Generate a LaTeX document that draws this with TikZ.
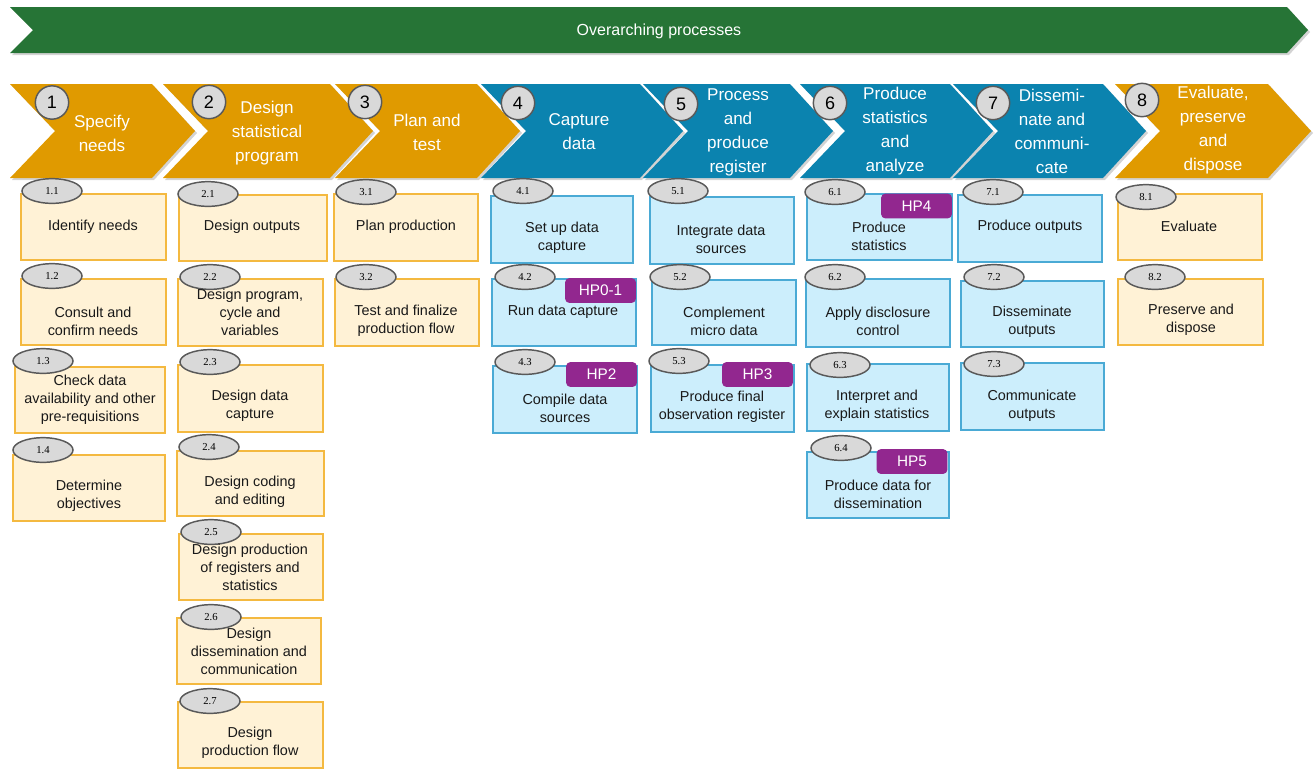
\documentclass[tikz,border=0pt]{standalone}
\usepackage{fontspec}
\setmainfont{Liberation Sans}
\newfontfamily\numserif{Liberation Serif}
\usetikzlibrary{shapes.geometric,fit,shadows}
\definecolor{gsorange}{HTML}{E09A00}
\definecolor{gsblue}{HTML}{0B83AF}
\definecolor{gsgreen}{HTML}{267436}
\definecolor{ylfill}{HTML}{FFF2D6}
\definecolor{ylline}{HTML}{F4B940}
\definecolor{blfill}{HTML}{CCEEFC}
\definecolor{blline}{HTML}{4AAAD5}
\definecolor{hppurple}{HTML}{92278F}
\definecolor{elfill}{HTML}{D9D9D9}
\definecolor{elline}{HTML}{595959}
\tikzset{
  chev/.style={drop shadow={shadow xshift=1.5pt,shadow yshift=-1.5pt,opacity=0.35}},
  chevtext/.style={text=white,align=center,font=\fontsize{12.8}{18}\selectfont,inner sep=0pt},
  numcirc/.style={circle,fill=elfill,draw=elline,line width=1.1pt,minimum size=25pt,inner sep=0pt,font=\fontsize{13.5}{15}\selectfont},
  ybox/.style={fill=ylfill,draw=ylline,line width=0.9pt,inner sep=0pt},
  bbox/.style={fill=blfill,draw=blline,line width=0.9pt,inner sep=0pt},
  numell/.style={ellipse,fill=elfill,draw=elline,line width=1.1pt,minimum width=45pt,minimum height=18.5pt,inner sep=0pt,font=\numserif\fontsize{8}{9}\selectfont},
  boxtext/.style={align=center,font=\fontsize{10.8}{13.5}\selectfont,inner sep=0pt,text=black!90},
  hptag/.style={fill=hppurple,rounded corners=3pt,inner sep=0pt,text=white,font=\fontsize{11.5}{13}\selectfont,minimum width=53pt,minimum height=18.5pt},
}
\newcommand\pbox[8]{%
  \node[#2, fit={#3 #4}] (#1) {};
  \node[numell] (#1e) at #5 {#6};
  \node[boxtext] (#1t) at #7 {#8};
}
\newcommand\chevron[6]{% #1 L, #2 R, #3 colour, #4 circle centre, #5 number, #6 name
  \fill[#3,chev] (#1,84) -- (#2,84) -- ({#2+43},131) -- (#2,178) -- (#1,178) -- ({#1+45},131) -- cycle;
  \node[numcirc] (#6) at #4 {#5};
}
\begin{document}
\begin{tikzpicture}[x=0.75pt,y=-0.75pt]
\useasboundingbox (0,0) rectangle (1314,769);
% banner
\fill[gsgreen,chev] (10,7) -- (1287,7) -- (1308,30) -- (1287,53) -- (10,53) -- (33,30) -- cycle;
\node[text=white,font=\fontsize{12}{14}\selectfont] (banner) at (659,31) {Overarching processes};
% chevrons
\chevron{10}{152}{gsorange}{(52,102.5)}{1}{c1}
\chevron{163}{330}{gsorange}{(209,102)}{2}{c2}
\chevron{335}{477}{gsorange}{(365,102)}{3}{c3}
\chevron{481}{640}{gsblue}{(518,103)}{4}{c4}
\chevron{643}{790}{gsblue}{(681,104)}{5}{c5}
\chevron{800}{950}{gsblue}{(830,103)}{6}{c6}
\chevron{953}{1103}{gsblue}{(993,103)}{7}{c7}
\chevron{1115}{1268}{gsorange}{(1142,100)}{8}{c8}
\node[chevtext] (t1) at (102,133.5) {Specify\\needs};
\node[chevtext] (t2) at (267,133) {Design\\statistical\\program};
\node[chevtext] (t3) at (427,132.5) {Plan and\\test};
\node[chevtext] (t4) at (579,131.5) {Capture\\data};
\node[chevtext] (t5) at (738,132.5) {Process\\and\\produce\\register};
\node[chevtext] (t6) at (895,131) {Produce\\statistics\\and\\analyze};
\node[chevtext] (t7) at (1052,131) {Dissemi-\\nate and\\communi-\\cate};
\node[chevtext] (t8) at (1213,130.5) {Evaluate,\\preserve\\and\\dispose};
% column 1
\pbox{b11}{ybox}{(21,194)}{(166,260)}{(52,191)}{1.1}{(93,227)}{Identify needs}
\pbox{b12}{ybox}{(21,279)}{(166,345)}{(52,276)}{1.2}{(93,321)}{Consult and\\confirm needs}
\pbox{b13}{ybox}{(15,367)}{(165,433)}{(43,361)}{1.3}{(90,400)}{Check data\\availability and other\\pre-requisitions}
\pbox{b14}{ybox}{(13,455)}{(165,521)}{(43,450)}{1.4}{(89,496)}{Determine\\objectives}
% column 2
\pbox{b21}{ybox}{(179,195)}{(327,261)}{(208,194)}{2.1}{(252,227)}{Design outputs}
\pbox{b22}{ybox}{(178,279)}{(323,346)}{(210,277)}{2.2}{(250,312)}{Design program,\\cycle and\\variables}
\pbox{b23}{ybox}{(178,365)}{(323,432)}{(210,362)}{2.3}{(250,406)}{Design data\\capture}
\pbox{b24}{ybox}{(177,451)}{(324,516)}{(209,447)}{2.4}{(250,492)}{Design coding\\and editing}
\pbox{b25}{ybox}{(179,534)}{(323,600)}{(211,532)}{2.5}{(250,567)}{Design production\\of registers and\\statistics}
\pbox{b26}{ybox}{(177,618)}{(321,684)}{(211,617)}{2.6}{(249,651)}{Design\\dissemination and\\communication}
\pbox{b27}{ybox}{(178,702)}{(323,768)}{(210,701)}{2.7}{(250,743)}{Design\\production flow}
% column 3
\pbox{b31}{ybox}{(334,194)}{(478,261)}{(366,192)}{3.1}{(406,227)}{Plan production}
\pbox{b32}{ybox}{(335,279)}{(479,346)}{(366,277)}{3.2}{(406,321)}{Test and finalize\\production flow}
% column 4
\pbox{b41}{bbox}{(491,196)}{(633,263)}{(523,191)}{4.1}{(562,238)}{Set up data\\capture}
\node[bbox, fit={(492,279) (636,346)}] (b42) {};
\node[numell] (b42e) at (525,277) {4.2};
\node[hptag] (hp01) at (600.5,290.5) {HP0-1};
\node[boxtext] (b42t) at (563,312) {Run data capture};
\node[bbox, fit={(493,366) (637,433)}] (b43) {};
\node[numell] (b43e) at (525,362) {4.3};
\node[hptag] (hp2) at (601.5,374.5) {HP2};
\node[boxtext] (b43t) at (565,408) {Compile data\\sources};
% column 5
\pbox{b51}{bbox}{(650,197)}{(794,264)}{(678,191)}{5.1}{(721,239)}{Integrate data\\sources}
\pbox{b52}{bbox}{(652,280)}{(796,345)}{(680,277)}{5.2}{(724,321)}{Complement\\micro data}
\node[bbox, fit={(651,365) (794,432)}] (b53) {};
\node[numell] (b53e) at (679,361) {5.3};
\node[hptag] (hp3) at (757.5,374.5) {HP3};
\node[boxtext] (b53t) at (722,407) {Produce final\\observation register};
% column 6
\node[bbox, fit={(807,194) (952,260)}] (b61) {};
\node[numell] (b61e) at (835,192) {6.1};
\node[hptag] (hp4) at (916.5,206) {HP4};
\node[boxtext] (b61t) at (879,236) {Produce\\statistics};
\pbox{b62}{bbox}{(806,279)}{(950,347)}{(835,277)}{6.2}{(878,321)}{Apply disclosure\\control}
\pbox{b63}{bbox}{(807,364)}{(949,431)}{(840,365)}{6.3}{(877,406)}{Interpret and\\explain statistics}
\node[bbox, fit={(807,452) (949,518)}] (b64) {};
\node[numell] (b64e) at (841,448) {6.4};
\node[hptag] (hp5) at (912,461.5) {HP5};
\node[boxtext] (b64t) at (878,494) {Produce data for\\dissemination};
% column 7
\pbox{b71}{bbox}{(958,195)}{(1102,262)}{(993,192)}{7.1}{(1030,227)}{Produce outputs}
\pbox{b72}{bbox}{(961,281)}{(1104,347)}{(994,277)}{7.2}{(1032,322)}{Disseminate\\outputs}
\pbox{b73}{bbox}{(961,363)}{(1104,430)}{(994,364)}{7.3}{(1032,406)}{Communicate\\outputs}
% column 8
\pbox{b81}{ybox}{(1118,194)}{(1262,260)}{(1146,197)}{8.1}{(1189,226)}{Evaluate}
\pbox{b82}{ybox}{(1118,279)}{(1263,345)}{(1155,277)}{8.2}{(1191,320)}{Preserve and\\dispose}
\end{tikzpicture}
\end{document}
